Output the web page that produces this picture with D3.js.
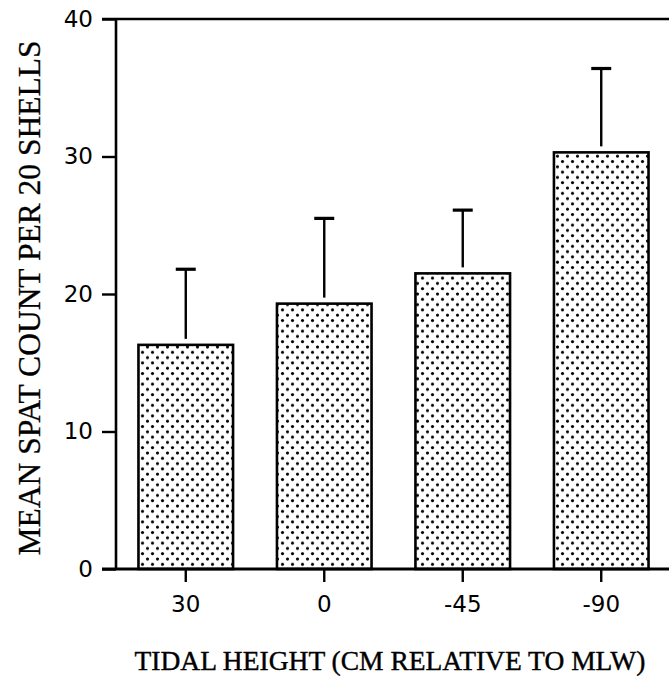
<!DOCTYPE html>
<html>
<head>
<meta charset="utf-8">
<script src="https://cdn.jsdelivr.net/npm/d3@7"></script>
<style>
  html, body { margin: 0; padding: 0; background: #fff; }
  svg { display: block; }
</style>
</head>
<body>
<svg id="chart" width="669" height="682"></svg>
<script>
// Tidal height groups (cm relative to MLW)
const categories = ["30", "0", "-45", "-90"];
// Mean spat count per 20 shells
const means = [16.3, 19.3, 21.5, 30.3];
// Upper error bar length (standard error)
const errors = [5.5, 6.2, 4.6, 6.1];
// Y-axis tick values
const yTicks = [0, 10, 20, 30, 40];

(function () {
const svg = d3.select("#chart");
const W = 669;
const axisX = 116, plotTop = 19, base = 569;

const x = d3.scaleBand()
  .domain(categories)
  .range([axisX + 1, W + 1])
  .paddingInner(0.317)
  .paddingOuter(0.155);

const y = d3.scaleLinear().domain([0, 40]).range([base, plotTop]);

// Stipple fill for bars: staggered dot grid
const defs = svg.append("defs");
const pat = defs.append("pattern")
  .attr("id", "dots")
  .attr("patternUnits", "userSpaceOnUse")
  .attr("width", 10).attr("height", 10.6);
pat.append("rect").attr("width", 10).attr("height", 10.6).attr("fill", "#fff");
pat.append("circle").attr("cx", 2.5).attr("cy", 2.5).attr("r", 1.6).attr("fill", "#000");
pat.append("circle").attr("cx", 7.5).attr("cy", 7.8).attr("r", 1.6).attr("fill", "#000");

const numFont = "'DejaVu Sans', 'Liberation Sans', sans-serif";
const titleFont = "'Liberation Serif', 'Times New Roman', serif";

// Bars
const data = categories.map((c, i) => ({ c, m: means[i], e: errors[i] }));
svg.append("g").selectAll("rect")
  .data(data).join("rect")
  .attr("x", d => x(d.c))
  .attr("y", d => y(d.m))
  .attr("width", x.bandwidth())
  .attr("height", d => y(0) - y(d.m))
  .attr("fill", "url(#dots)")
  .attr("stroke", "#000")
  .attr("stroke-width", 2.6);

// Error bars (upper only)
const eb = svg.append("g").selectAll("g").data(data).join("g");
eb.append("line")
  .attr("x1", d => x(d.c) + x.bandwidth() / 2)
  .attr("x2", d => x(d.c) + x.bandwidth() / 2)
  .attr("y1", d => y(d.m) - 6)
  .attr("y2", d => y(d.m + d.e))
  .attr("stroke", "#000").attr("stroke-width", 2.4);
eb.append("line")
  .attr("x1", d => x(d.c) + x.bandwidth() / 2 - 10)
  .attr("x2", d => x(d.c) + x.bandwidth() / 2 + 10)
  .attr("y1", d => y(d.m + d.e))
  .attr("y2", d => y(d.m + d.e))
  .attr("stroke", "#000").attr("stroke-width", 3.2);

// Y axis
const gy = svg.append("g")
  .attr("transform", `translate(${axisX},0)`)
  .call(d3.axisLeft(y).tickValues(yTicks).tickSize(14).tickPadding(9));
gy.select(".domain").remove();
gy.selectAll(".tick line").attr("stroke-width", 2.4);
gy.selectAll(".tick text")
  .attr("font-family", numFont).attr("font-size", 23).attr("fill", "#000");

// X axis
const gx = svg.append("g")
  .attr("transform", `translate(0,${base})`)
  .call(d3.axisBottom(x).tickSize(13).tickPadding(14));
gx.select(".domain").remove();
gx.selectAll(".tick line").attr("stroke-width", 2.4);
gx.selectAll(".tick text")
  .attr("font-family", numFont).attr("font-size", 23).attr("fill", "#000");

// Frame lines: left axis, baseline and top rule
svg.append("line").attr("x1", axisX).attr("x2", axisX).attr("y1", plotTop).attr("y2", base)
  .attr("stroke", "#000").attr("stroke-width", 2.6);
svg.append("line").attr("x1", axisX - 14).attr("x2", W).attr("y1", base).attr("y2", base)
  .attr("stroke", "#000").attr("stroke-width", 3);
svg.append("line").attr("x1", axisX - 14).attr("x2", W).attr("y1", plotTop).attr("y2", plotTop)
  .attr("stroke", "#000").attr("stroke-width", 2.6);

// Axis titles
svg.append("text")
  .attr("x", 390).attr("y", 670)
  .attr("text-anchor", "middle")
  .attr("font-family", titleFont).attr("font-size", 27.5)
  .attr("fill", "#000").attr("stroke", "#000").attr("stroke-width", 0.4)
  .text("TIDAL HEIGHT (CM RELATIVE TO MLW)");

svg.append("text")
  .attr("transform", "translate(40,298) rotate(-90)")
  .attr("text-anchor", "middle")
  .attr("font-family", titleFont).attr("font-size", 31.5)
  .attr("fill", "#000").attr("stroke", "#000").attr("stroke-width", 0.3)
  .text("MEAN SPAT COUNT PER 20 SHELLS");
})();
</script>
</body>
</html>
